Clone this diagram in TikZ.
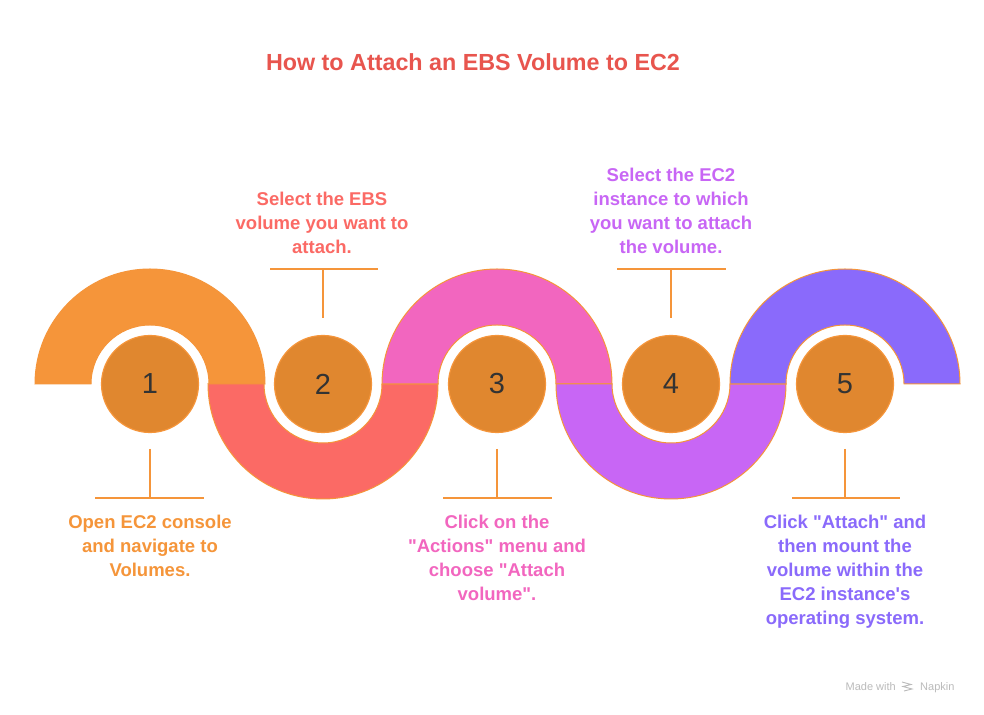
\documentclass[tikz,border=0pt]{standalone}
\usepackage{fontspec}
\setmainfont{Liberation Sans}[Ligatures=TeXOff]
\definecolor{cOrange}{HTML}{F5953A}
\definecolor{cRed}{HTML}{FB6A65}
\definecolor{cPink}{HTML}{F266BF}
\definecolor{cPurple}{HTML}{C866F5}
\definecolor{cViolet}{HTML}{8A6AFB}
\definecolor{cCirc}{HTML}{E0872F}
\definecolor{cTitle}{HTML}{E8554E}
\definecolor{cNum}{HTML}{333333}
\definecolor{cWm}{HTML}{BBBBBB}
\begin{document}
\begin{tikzpicture}[x=1pt,y=1pt,
  band/.style={draw=cOrange, line width=1pt},
  stepcirc/.style={circle, minimum size=97pt, inner sep=0pt, fill=cCirc, draw=cOrange, line width=1.2pt,
    text=cNum, font=\fontsize{29}{32}\selectfont},
  conn/.style={draw=cOrange, line width=2pt},
  lbl/.style={font=\fontsize{18.5}{24}\selectfont\bfseries, align=center, inner sep=0pt},
  wm/.style={font=\fontsize{11}{13}\selectfont, text=cWm, inner sep=0pt},
]
\useasboundingbox (0,0) rectangle (984,714);
\fill[white] (0,0) rectangle (984,714);

% title
\node[font=\fontsize{23.3}{26}\selectfont\bfseries, text=cTitle] (title) at (473,652) {How to Attach an EBS Volume to EC2};

% bands
\path[band, fill=cOrange] (35,330) arc[start angle=180,end angle=0,radius=115] -- (209,330) arc[start angle=0,end angle=180,radius=59] -- cycle;
\path[band, fill=cRed] (208,330) arc[start angle=180,end angle=360,radius=115] -- (382,330) arc[start angle=0,end angle=-180,radius=59] -- cycle;
\path[band, fill=cPink] (382,330) arc[start angle=180,end angle=0,radius=115] -- (556,330) arc[start angle=0,end angle=180,radius=59] -- cycle;
\path[band, fill=cPurple] (556,330) arc[start angle=180,end angle=360,radius=115] -- (730,330) arc[start angle=0,end angle=-180,radius=59] -- cycle;
\path[band, fill=cViolet] (730,330) arc[start angle=180,end angle=0,radius=115] -- (904,330) arc[start angle=0,end angle=180,radius=59] -- cycle;

% circles
\node[stepcirc] (c1) at (150,330) {1};
\node[stepcirc] (c2) at (323,330) {2};
\node[stepcirc] (c3) at (497,330) {3};
\node[stepcirc] (c4) at (671,330) {4};
\node[stepcirc] (c5) at (845,330) {5};

% connector coordinates
\coordinate (v1) at (150,265); \coordinate (m1) at (150,216); \coordinate (l1) at (95,216);  \coordinate (r1) at (204,216);
\coordinate (v2) at (323,396); \coordinate (m2) at (323,445); \coordinate (l2) at (270,445); \coordinate (r2) at (378,445);
\coordinate (v3) at (497,265); \coordinate (m3) at (497,216); \coordinate (l3) at (443,216); \coordinate (r3) at (552,216);
\coordinate (v4) at (671,396); \coordinate (m4) at (671,445); \coordinate (l4) at (617,445); \coordinate (r4) at (726,445);
\coordinate (v5) at (845,265); \coordinate (m5) at (845,216); \coordinate (l5) at (792,216); \coordinate (r5) at (900,216);
\foreach \i in {1,...,5}{
  \draw[conn] (v\i) -- (m\i);
  \draw[conn] (l\i) -- (r\i);
}

% labels
\node[lbl, text=cOrange, anchor=north] (t1) at (150,199) {Open EC2 console\\and navigate to\\Volumes.};
\node[lbl, text=cRed, anchor=north] (t2) at (322,522) {Select the EBS\\volume you want to\\attach.};
\node[lbl, text=cPink, anchor=north] (t3) at (497,199) {Click on the\\"Actions" menu and\\choose "Attach\\volume".};
\node[lbl, text=cPurple, anchor=north] (t4) at (671,546) {Select the EC2\\instance to which\\you want to attach\\the volume.};
\node[lbl, text=cViolet, anchor=north] (t5) at (845,199) {Click "Attach" and\\then mount the\\volume within the\\EC2 instance's\\operating system.};

% watermark
\node[wm, anchor=base east] (wm1) at (896,23) {Made with};
\node[wm, anchor=base west] (wm2) at (920,23) {Napkin};
\draw[cWm, line width=0.9pt] (wm1.base east) ++(6,9) -- ++(9,-2.5) -- ++(-8,-2) -- ++(9,-2.5) -- ++(-8,-2);
\end{tikzpicture}
\end{document}
